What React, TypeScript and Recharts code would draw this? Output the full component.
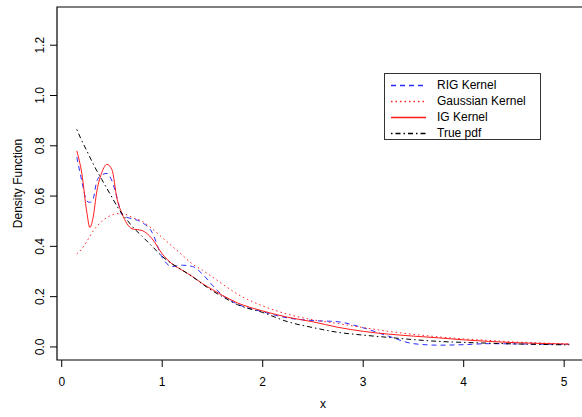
import React from 'react';
import { LineChart, Line, XAxis, YAxis, ReferenceArea } from 'recharts';

const xGrid = [0.15, 0.2, 0.25, 0.28, 0.31, 0.35, 0.4, 0.45, 0.5, 0.55, 0.6, 0.65, 0.7, 0.8, 0.9, 1.0, 1.1, 1.2, 1.3, 1.4, 1.5, 1.6, 1.75, 2.0, 2.25, 2.5, 2.75, 3.0, 3.25, 3.5, 3.75, 4.0, 4.25, 4.5, 4.75, 5.05];

const rigKernel = [0.755, 0.66, 0.58, 0.575, 0.585, 0.66, 0.685, 0.69, 0.66, 0.595, 0.525, 0.515, 0.51, 0.495, 0.455, 0.356, 0.32, 0.325, 0.32, 0.29, 0.245, 0.205, 0.17, 0.14, 0.115, 0.105, 0.1, 0.076, 0.043, 0.013, 0.007, 0.009, 0.013, 0.012, 0.011, 0.01];

const gaussianKernel = [0.37, 0.39, 0.42, 0.44, 0.46, 0.48, 0.5, 0.515, 0.525, 0.53, 0.53, 0.525, 0.515, 0.5, 0.47, 0.435, 0.4, 0.365, 0.33, 0.305, 0.278, 0.25, 0.21, 0.163, 0.13, 0.108, 0.093, 0.077, 0.062, 0.05, 0.04, 0.032, 0.026, 0.02, 0.016, 0.012];

const igKernel = [0.78, 0.69, 0.535, 0.475, 0.51, 0.62, 0.695, 0.726, 0.705, 0.59, 0.53, 0.49, 0.47, 0.463, 0.43, 0.37, 0.33, 0.305, 0.28, 0.252, 0.228, 0.205, 0.175, 0.143, 0.118, 0.1, 0.078, 0.062, 0.051, 0.043, 0.036, 0.028, 0.022, 0.017, 0.014, 0.011];

const truePdf = [0.865, 0.82, 0.78, 0.755, 0.73, 0.7, 0.665, 0.63, 0.595, 0.56, 0.53, 0.505, 0.48, 0.44, 0.4, 0.36, 0.33, 0.305, 0.28, 0.25, 0.223, 0.2, 0.168, 0.137, 0.1, 0.077, 0.058, 0.047, 0.038, 0.029, 0.022, 0.018, 0.015, 0.012, 0.01, 0.008];

const xTicks = [0, 1, 2, 3, 4, 5];
const yTicks = [0, 0.2, 0.4, 0.6, 0.8, 1.0, 1.2];
const seriesNames = ['RIG Kernel', 'Gaussian Kernel', 'IG Kernel', 'True pdf'];

const X_DOMAIN: [number, number] = [-0.047, 5.247];
const Y_DOMAIN: [number, number] = [-0.052, 1.352];

const data = xGrid.map((x, i) => ({
  x,
  rig: rigKernel[i],
  gauss: gaussianKernel[i],
  ig: igKernel[i],
  truth: truePdf[i],
}));

const FONT = '"Liberation Sans", Arial, Helvetica, sans-serif';

const styles = [
  { key: 'rig', color: '#2a2aff', dash: '5 4' },
  { key: 'gauss', color: '#ff2020', dash: '1.5 3' },
  { key: 'ig', color: '#ff1a1a', dash: undefined },
  { key: 'truth', color: '#000000', dash: '1.5 3 5 3' },
];

const YTick = (props: any) => {
  const { x, y, payload } = props;
  return (
    <text
      transform={`translate(${x - 4},${y}) rotate(-90)`}
      textAnchor="middle"
      fontSize={12}
      fontFamily={FONT}
      fill="#000"
    >
      {Number(payload.value).toFixed(1)}
    </text>
  );
};

export default function App() {
  return (
    <div style={{ position: 'absolute', left: 0, top: 0, width: 582, height: 417, overflow: 'hidden', background: '#fff', fontFamily: FONT }}>
      <LineChart width={600} height={417} data={data} margin={{ top: 7, right: 11, bottom: 0, left: 0 }}>
        <XAxis
          dataKey="x"
          type="number"
          domain={X_DOMAIN}
          ticks={xTicks}
          allowDataOverflow
          height={57}
          axisLine={false}
          tickSize={7}
          tickMargin={10}
          tickLine={{ stroke: '#000' }}
          tick={{ fontSize: 12, fill: '#000', fontFamily: FONT }}
          label={{ value: 'x', position: 'insideBottom', offset: 9, style: { fontSize: 12, fill: '#000', fontFamily: FONT } }}
        />
        <YAxis
          type="number"
          domain={Y_DOMAIN}
          ticks={yTicks}
          allowDataOverflow
          width={57}
          axisLine={false}
          tickSize={7}
          tickMargin={2}
          tickLine={{ stroke: '#000' }}
          tick={<YTick />}
          label={{ value: 'Density Function', angle: -90, position: 'insideLeft', offset: 18, style: { fontSize: 12, fill: '#000', fontFamily: FONT, textAnchor: 'middle' } }}
        />
        {styles.map((s) => (
          <Line
            key={s.key}
            type="monotone"
            dataKey={s.key}
            stroke={s.color}
            strokeWidth={1}
            strokeDasharray={s.dash}
            dot={false}
            activeDot={false}
            isAnimationActive={false}
          />
        ))}
        <ReferenceArea
          x1={X_DOMAIN[0]}
          x2={X_DOMAIN[1]}
          y1={Y_DOMAIN[0]}
          y2={Y_DOMAIN[1]}
          fill="none"
          fillOpacity={0}
          stroke="#000"
          strokeWidth={1.2}
          ifOverflow="visible"
        />
      </LineChart>
      <div
        style={{
          position: 'absolute',
          left: 384,
          top: 73,
          width: 157,
          height: 67,
          border: '1px solid #333',
          background: '#fff',
          boxSizing: 'border-box',
        }}
      >
        {seriesNames.map((name, i) => (
          <div key={name} style={{ position: 'absolute', left: 0, top: 4 + i * 16, height: 15, width: 155 }}>
            <svg width={40} height={15} style={{ position: 'absolute', left: 5, top: 0 }}>
              <line x1={1} y1={7.5} x2={36} y2={7.5} stroke={styles[i].color} strokeWidth={1.3} strokeDasharray={styles[i].dash} />
            </svg>
            <span style={{ position: 'absolute', left: 52, top: 0, fontSize: 12, lineHeight: '15px', color: '#000', whiteSpace: 'nowrap' }}>{name}</span>
          </div>
        ))}
      </div>
    </div>
  );
}
